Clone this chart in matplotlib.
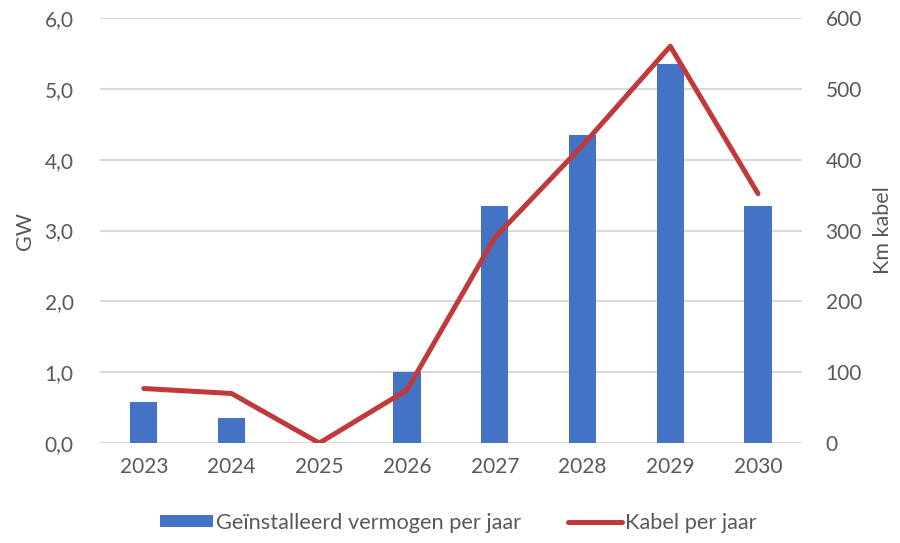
import matplotlib.pyplot as plt
from matplotlib.ticker import FixedLocator

plt.rcParams['font.family'] = ['Lato', 'DejaVu Sans']

# data
years = ['2023', '2024', '2025', '2026', '2027', '2028', '2029', '2030']
gw_per_year = [0.58, 0.35, 0.0, 1.0, 3.35, 4.35, 5.35, 3.35]
km_kabel = [77, 70, 0, 75, 290, 420, 560, 352]

gw_ticks = [0, 1, 2, 3, 4, 5, 6]
km_ticks = [0, 100, 200, 300, 400, 500, 600]

blue = '#4472C4'
red = '#C0393B'
grey = '#595959'

fig = plt.figure(figsize=(9, 5.43), dpi=100)
ax = fig.add_axes([0.111, 0.184, 0.78, 0.783])
ax2 = ax.twinx()

x = range(len(years))
bars = ax.bar(x, gw_per_year, width=0.31, color=blue, zorder=3,
              label='Geïnstalleerd vermogen per jaar')
line, = ax2.plot(x, km_kabel, color=red, linewidth=3.6, zorder=4,
                 solid_capstyle='round', label='Kabel per jaar')

ax.set_xlim(-0.5, len(years) - 0.5)
ax.set_ylim(0, 6)
ax2.set_ylim(0, 600)
ax.yaxis.set_major_locator(FixedLocator(gw_ticks))
ax2.yaxis.set_major_locator(FixedLocator(km_ticks))
ax.set_yticklabels([f'{v:.1f}'.replace('.', ',') for v in gw_ticks])
ax2.set_yticklabels([str(v) for v in km_ticks])
ax.set_xticks(list(x))
ax.set_xticklabels(years)

ax.grid(axis='y', color='#D9D9D9', linewidth=1.5, zorder=0)
ax.set_axisbelow(True)
for a in (ax, ax2):
    for s in a.spines.values():
        s.set_visible(False)
    a.tick_params(length=0, labelsize=15, labelcolor=grey)
ax.tick_params(axis='x', pad=10)
ax.tick_params(axis='y', pad=19)
ax2.tick_params(axis='y', pad=17)

ax.set_ylabel('GW', fontsize=15.5, color=grey, labelpad=7)
ax2.set_ylabel('Km kabel', fontsize=15.5, color=grey, labelpad=8)

ax2.set_zorder(ax.get_zorder() + 1)
ax2.patch.set_visible(False)

fig.legend([bars, line], ['Geïnstalleerd vermogen per jaar', 'Kabel per jaar'],
           loc='center', bbox_to_anchor=(0.509, 0.037), ncol=2, frameon=False,
           fontsize=15.7, labelcolor=grey, handlelength=2.45, handleheight=0.45,
           handletextpad=0.15, columnspacing=2.15)

fig.savefig('out.png', dpi=100)
